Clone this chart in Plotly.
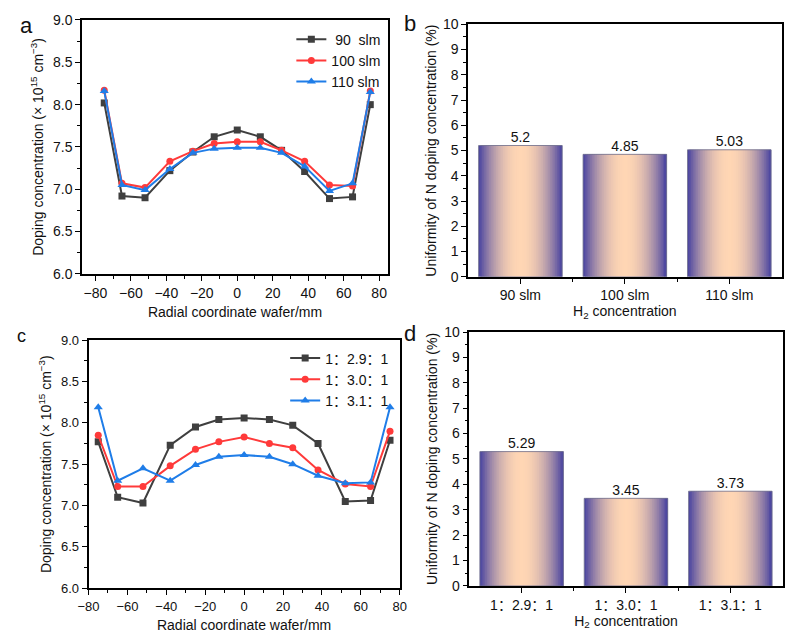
import plotly.graph_objects as go

# ---------------- data ----------------
radial_mm = [-75, -65, -52, -38, -25, -13, 0, 13, 25, 38, 52, 65, 75]

flow_labels = [" 90\u00a0\u00a0slm", "100 slm", "110 slm"]
conc_90 = [8.02, 6.92, 6.90, 7.22, 7.44, 7.62, 7.70, 7.62, 7.46, 7.21, 6.89, 6.91, 8.00]
conc_100 = [8.17, 7.07, 7.02, 7.33, 7.45, 7.54, 7.56, 7.56, 7.46, 7.33, 7.05, 7.04, 8.16]
conc_110 = [8.16, 7.05, 6.99, 7.24, 7.43, 7.48, 7.49, 7.49, 7.43, 7.27, 6.98, 7.07, 8.15]

ratio_labels = ["1：2.9：1", "1：3.0：1", "1：3.1：1"]
conc_r29 = [7.77, 7.10, 7.03, 7.73, 7.95, 8.04, 8.06, 8.04, 7.97, 7.75, 7.05, 7.06, 7.79]
conc_r30 = [7.85, 7.23, 7.23, 7.48, 7.68, 7.77, 7.83, 7.75, 7.70, 7.43, 7.26, 7.23, 7.90]
conc_r31 = [8.19, 7.30, 7.45, 7.30, 7.49, 7.59, 7.61, 7.59, 7.50, 7.36, 7.27, 7.28, 8.19]

bar_cats_b = ["90 slm", "100 slm", "110 slm"]
uniformity_b = [5.2, 4.85, 5.03]
bar_cats_d = ["1：2.9：1", "1：3.0：1", "1：3.1：1"]
uniformity_d = [5.29, 3.45, 3.73]

# ---------------- style ----------------
FONT = "Arial, Liberation Sans, Noto Sans CJK SC, sans-serif"
line_colors = ["#3f3f3f", "#ff3a3a", "#1f7de8"]
symbols = ["square", "circle", "triangle-up"]
PURPLE = (78, 72, 160)
PEACH = (255, 214, 180)

fig = go.Figure()


def add_lines(series, labels, xa, ya, legend):
    for vals, lab, col, sym in zip(series, labels, line_colors, symbols):
        fig.add_trace(go.Scatter(
            x=radial_mm, y=vals, name=lab, mode="lines+markers",
            line=dict(color=col, width=2),
            marker=dict(symbol=sym, size=7 if sym != "triangle-up" else 8, color=col),
            xaxis=xa, yaxis=ya, legend=legend, showlegend=True))


add_lines([conc_90, conc_100, conc_110], flow_labels, "x", "y", "legend")
add_lines([conc_r29, conc_r30, conc_r31], ratio_labels, "x3", "y3", "legend2")


def grad_color(j, n):
    t = abs(2 * (j + 0.5) / n - 1)
    f = min(1.0, t ** 2.0 * 1.05)
    r, g, b = (PEACH[k] + (PURPLE[k] - PEACH[k]) * f for k in range(3))
    return f"rgb({r:.0f},{g:.0f},{b:.0f})"


def add_bars(values, xa, ya):
    xpos = list(range(len(values)))
    n = 48
    bw = 0.8
    w = bw / n
    for j in range(n):
        ww = w * (2.0 if j < n - 1 else 1.0)
        fig.add_trace(go.Bar(
            x=xpos, y=values, width=ww, offset=-bw / 2 + j * w,
            marker=dict(color=grad_color(j, n), line=dict(width=0)),
            xaxis=xa, yaxis=ya, showlegend=False, hoverinfo="skip"))
    fig.add_trace(go.Bar(
        x=xpos, y=values, width=bw, offset=-bw / 2,
        marker=dict(color="rgba(0,0,0,0)", line=dict(width=1, color="rgba(110,110,140,0.8)")),
        xaxis=xa, yaxis=ya, showlegend=False, hoverinfo="skip"))
    fig.add_trace(go.Scatter(
        x=xpos, y=values, mode="text", text=[str(v) for v in values],
        textposition="top center", textfont=dict(size=14, color="#111", family=FONT),
        xaxis=xa, yaxis=ya, showlegend=False, hoverinfo="skip"))


add_bars(uniformity_b, "x2", "y2")
add_bars(uniformity_d, "x4", "y4")


def ax(domain, anchor, **kw):
    d = dict(domain=domain, anchor=anchor, showline=True, linecolor="black", linewidth=1.6,
             mirror=True, ticks="outside", ticklen=5, tickwidth=1.3, tickcolor="black",
             showgrid=False, zeroline=False, tickfont=dict(size=14, color="#111", family=FONT),
             title_font=dict(size=14, color="#111", family=FONT))
    d.update(kw)
    return d


W, H = 799, 642


def xd(a, b):
    return [a / W, b / W]


def yd(top, bot):
    return [1 - bot / H, 1 - top / H]


ytitle_conc = "Doping concentration (× 10<sup>15</sup> cm<sup>−3</sup>)"
ytitle_uni = "Uniformity of N doping concentration (%)"
xtitle_rad = "Radial coordinate wafer/mm"
xtitle_h2 = "H<sub>2</sub> concentration"

fig.update_layout(
    width=W, height=H, margin=dict(l=0, r=0, t=0, b=0),
    paper_bgcolor="white", plot_bgcolor="white", barmode="overlay",
    font=dict(family=FONT, color="#111"),
    xaxis=ax(xd(72.7, 385.7), "y", range=[-87.5, 85], dtick=20,
             minor=dict(dtick=10, ticklen=3, ticks="outside", tickcolor="black"),
             title=dict(text=xtitle_rad, standoff=8)),
    yaxis=ax(yd(12.3, 272.7), "x", range=[6, 9], dtick=0.5, tickformat=".1f",
             minor=dict(dtick=0.25, ticklen=3, ticks="outside", tickcolor="black"),
             title=dict(text=ytitle_conc, standoff=6)),
    xaxis2=ax(xd(467.7, 788.3), "y2", range=[-0.5, 2.5], tickvals=[0, 1, 2],
              ticktext=bar_cats_b,
              minor=dict(tickvals=[0.5, 1.5], ticklen=3, ticks="outside", tickcolor="black"),
              title=dict(text=xtitle_h2, standoff=4)),
    yaxis2=ax(yd(16.7, 275.7), "x2", range=[0, 10], dtick=1,
              minor=dict(dtick=0.5, ticklen=3, ticks="outside", tickcolor="black"),
              title=dict(text=ytitle_uni, standoff=3)),
    xaxis3=ax(xd(79.3, 397.7), "y3", range=[-80, 80], dtick=20,
              minor=dict(dtick=10, ticklen=3, ticks="outside", tickcolor="black"),
              tickfont=dict(size=13, color="#111", family=FONT),
              title=dict(text=xtitle_rad, standoff=8)),
    yaxis3=ax(yd(340.7, 595), "x3", range=[6, 9], dtick=0.5, tickformat=".1f",
              minor=dict(dtick=0.25, ticklen=3, ticks="outside", tickcolor="black"),
              tickfont=dict(size=13, color="#111", family=FONT),
              title=dict(text=ytitle_conc, standoff=6)),
    xaxis4=ax(xd(469, 789.3), "y4", range=[-0.5, 2.5], tickvals=[0, 1, 2],
              ticktext=bar_cats_d,
              minor=dict(tickvals=[0.5, 1.5], ticklen=3, ticks="outside", tickcolor="black"),
              title=dict(text=xtitle_h2, standoff=4)),
    yaxis4=ax(yd(332.3, 592.7), "x4", range=[0, 10], dtick=1,
              minor=dict(dtick=0.5, ticklen=3, ticks="outside", tickcolor="black"),
              title=dict(text=ytitle_uni, standoff=3)),
    legend=dict(x=384 / W, xanchor="right", y=1 - 16 / H, yanchor="top",
                bgcolor="rgba(0,0,0,0)", font=dict(size=14, family=FONT, color="#111"),
                tracegroupgap=0, itemwidth=30),
    legend2=dict(x=392 / W, xanchor="right", y=1 - 343 / H, yanchor="top",
                 bgcolor="rgba(0,0,0,0)", font=dict(size=14, family=FONT, color="#111"),
                 tracegroupgap=0, itemwidth=30),
)

for txt, x, y, s in [("a", 16, 18, 22), ("b", 408, 16, 22), ("c", 11, 336, 18), ("d", 408, 334, 22)]:
    fig.add_annotation(text=txt, x=x / W, y=1 - y / H, xref="paper", yref="paper",
                       showarrow=False, xanchor="center", yanchor="middle",
                       font=dict(size=s, family=FONT, color="#111"))

fig.write_html("out.html")
